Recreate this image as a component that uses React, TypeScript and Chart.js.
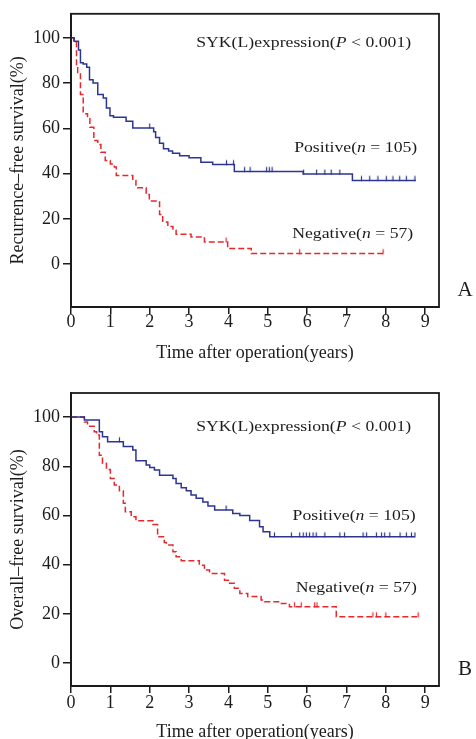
import React, { useEffect, useRef } from "react";
import { Chart, registerables } from "chart.js";

Chart.register(...registerables);

const FONT = '"Liberation Serif", "Times New Roman", Times, serif';
const BLUE = "#2c3590";
const RED = "#e6282c";
const INK = "#1c1c1c";

// ---------- shared ticks ----------
const xTickValues = [0, 1, 2, 3, 4, 5, 6, 7, 8, 9];
const yTickValues = [0, 20, 40, 60, 80, 100];
const xAxisTitle = "Time after operation(years)";

// ---------- Panel A: recurrence-free survival ----------
const rfsPositiveTime = [0, 0.08, 0.19, 0.24, 0.31, 0.4, 0.47, 0.56, 0.68, 0.82, 0.9, 0.99, 1.08, 1.4, 1.57, 2.1, 2.15, 2.25, 2.35, 2.48, 2.58, 2.76, 3.0, 3.3, 3.6, 4.15, 5.9, 7.15, 8.76];
const rfsPositiveSurv = [100, 98.5, 94.6, 89, 88.4, 87, 81.5, 80, 75, 73.4, 69, 65.6, 64.9, 63.1, 60.2, 58.5, 56, 53.4, 51, 50, 49, 47.9, 47, 45, 44, 41, 39.8, 37, 37];
const rfsPositiveCensor = [2.0, 3.95, 4.13, 4.41, 4.55, 4.97, 5.04, 5.11, 5.91, 6.24, 6.45, 6.61, 6.83, 7.38, 7.59, 7.8, 8.01, 8.18, 8.35, 8.52, 8.74];

const rfsNegativeTime = [0, 0.07, 0.14, 0.17, 0.24, 0.31, 0.42, 0.48, 0.58, 0.68, 0.76, 0.87, 1.0, 1.1, 1.15, 1.57, 1.65, 1.91, 1.99, 2.25, 2.33, 2.46, 2.59, 2.67, 3.05, 3.39, 3.98, 4.58, 7.93];
const rfsNegativeSurv = [100, 98, 87.7, 84.7, 75, 66.5, 64.8, 60.5, 54.6, 52.9, 49.5, 45.8, 44.3, 42.9, 39.2, 37, 33.8, 30.8, 27.9, 22, 18.6, 16.7, 15, 13.2, 12, 9.8, 6.9, 4.7, 4.7];
const rfsNegativeCensor = [3.94, 5.81, 7.93];

// ---------- Panel B: overall survival ----------
const osPositiveTime = [0, 0.34, 0.72, 0.8, 0.93, 1.33, 1.57, 1.65, 1.91, 2.0, 2.12, 2.25, 2.59, 2.67, 2.8, 2.93, 3.05, 3.18, 3.35, 3.48, 3.65, 4.11, 4.29, 4.54, 4.79, 4.88, 5.05, 8.74];
const osPositiveSurv = [100, 98.8, 94, 92, 90, 88, 86.6, 82.2, 80.5, 79.5, 78.5, 76.4, 75, 73, 71.3, 70, 68.3, 67, 65.5, 63.8, 62.2, 60.8, 60, 58, 55.4, 53.4, 51.3, 51.3];
const osPositiveCensor = [1.23, 3.94, 5.17, 5.6, 5.81, 5.9, 5.98, 6.06, 6.15, 6.23, 6.45, 6.83, 6.95, 7.42, 7.51, 7.76, 7.89, 7.97, 8.1, 8.36, 8.52, 8.65, 8.74];

const osNegativeTime = [0, 0.34, 0.42, 0.59, 0.65, 0.72, 0.8, 0.9, 1.0, 1.1, 1.23, 1.33, 1.38, 1.53, 1.65, 2.08, 2.2, 2.37, 2.42, 2.59, 2.67, 2.8, 3.26, 3.39, 3.52, 3.9, 4.03, 4.15, 4.29, 4.49, 4.83, 4.92, 5.3, 5.55, 6.74, 8.85];
const osNegativeSurv = [100, 98, 96.3, 94, 92.7, 84.5, 81.2, 78.7, 75, 72.4, 70, 65, 61.5, 59.5, 57.8, 56.3, 51.3, 49, 48, 45.2, 43.2, 41.6, 39.8, 37.8, 36.4, 33.7, 32.4, 30.4, 28.3, 27, 25.6, 24.9, 24.2, 22.9, 18.8, 18.8];
const osNegativeCensor = [5.68, 5.85, 6.19, 6.25, 7.67, 7.76, 8.0, 8.82];

if (typeof document !== "undefined") {
  document.body.style.margin = "0";
}

type Part = { text: string; italic?: boolean };
type Note = { x: number; y: number; parts: Part[] };

function survAt(times: number[], vals: number[], t: number) {
  let v = vals[0];
  for (let i = 0; i < times.length; i++) {
    if (times[i] <= t + 1e-9) v = vals[i];
  }
  return v;
}

function tickMark(color: string) {
  const c = document.createElement("canvas");
  c.width = 3;
  c.height = 12;
  const g = c.getContext("2d")!;
  g.strokeStyle = color;
  g.lineWidth = 1.2;
  g.beginPath();
  g.moveTo(1.5, 1.5);
  g.lineTo(1.5, 6.5);
  g.stroke();
  return c;
}

function drawRich(ctx: CanvasRenderingContext2D, x: number, y: number, parts: Part[]) {
  ctx.save();
  ctx.translate(x, y);
  ctx.scale(1.18, 1);
  ctx.textBaseline = "middle";
  ctx.textAlign = "left";
  ctx.fillStyle = INK;
  let cx = 0;
  for (const p of parts) {
    ctx.font = `${p.italic ? "italic " : ""}15px ${FONT}`;
    ctx.fillText(p.text, cx, 0);
    cx += ctx.measureText(p.text).width;
  }
  ctx.restore();
}

const overlayPlugin = {
  id: "overlay",
  afterDatasetsDraw(chart: any, _args: any, opts: any) {
    const { ctx, chartArea: a, scales } = chart;
    ctx.save();
    ctx.strokeStyle = INK;
    ctx.lineWidth = 1.8;
    ctx.strokeRect(a.left, a.top, a.right - a.left, a.bottom - a.top);
    for (const n of (opts.notes || []) as Note[]) {
      drawRich(ctx, scales.x.getPixelForValue(n.x), scales.y.getPixelForValue(n.y), n.parts);
    }
    ctx.font = `21px ${FONT}`;
    ctx.fillStyle = INK;
    ctx.textAlign = "center";
    ctx.textBaseline = "middle";
    ctx.fillText(opts.letter, a.right + 26, a.bottom - 17);
    ctx.restore();
  },
};

type PanelSpec = {
  posT: number[];
  posS: number[];
  posC: number[];
  negT: number[];
  negS: number[];
  negC: number[];
  yTitle: string;
  yMin: number;
  yMax: number;
  padTop: number;
  xAxisHeight: number;
  xTickPad: number;
  xTitlePad: number;
  letter: string;
  notes: Note[];
};

function makeConfig(p: PanelSpec): any {
  const curve = (t: number[], s: number[]) => t.map((v, i) => ({ x: v, y: s[i] }));
  const cens = (c: number[], t: number[], s: number[]) => c.map((v) => ({ x: v, y: survAt(t, s, v) }));
  return {
    type: "scatter",
    data: {
      datasets: [
        {
          label: "Positive",
          data: curve(p.posT, p.posS),
          showLine: true,
          stepped: "before",
          borderColor: BLUE,
          borderWidth: 1.5,
          pointRadius: 0,
          fill: false,
        },
        {
          label: "Positive censored",
          data: cens(p.posC, p.posT, p.posS),
          showLine: false,
          pointStyle: tickMark(BLUE),
          pointRadius: 3,
        },
        {
          label: "Negative",
          data: curve(p.negT, p.negS),
          showLine: true,
          stepped: "before",
          borderColor: RED,
          borderWidth: 1.5,
          borderDash: [6, 3],
          pointRadius: 0,
          fill: false,
        },
        {
          label: "Negative censored",
          data: cens(p.negC, p.negT, p.negS),
          showLine: false,
          pointStyle: tickMark(RED),
          pointRadius: 3,
        },
      ],
    },
    options: {
      animation: false,
      responsive: false,
      devicePixelRatio: 1,
      events: [],
      layout: { padding: { left: 0, top: p.padTop, right: 37, bottom: 0 } },
      plugins: {
        legend: { display: false },
        tooltip: { enabled: false },
        overlay: { notes: p.notes, letter: p.letter },
      },
      scales: {
        x: {
          type: "linear",
          min: 0,
          max: 9.35,
          afterBuildTicks: (s: any) => {
            s.ticks = xTickValues.map((v) => ({ value: v }));
          },
          afterFit: (s: any) => {
            s.height = p.xAxisHeight;
          },
          ticks: {
            color: INK,
            font: { family: FONT, size: 18, lineHeight: 0.9 },
            padding: p.xTickPad,
            maxRotation: 0,
            autoSkip: false,
          },
          grid: {
            display: true,
            drawOnChartArea: false,
            drawTicks: true,
            tickLength: 7,
            color: INK,
            lineWidth: 1.5,
          },
          border: { display: true, color: INK, width: 2 },
          title: {
            display: true,
            text: xAxisTitle,
            color: INK,
            font: { family: FONT, size: 18, lineHeight: 0.78 },
            padding: { top: 0, bottom: p.xTitlePad },
          },
        },
        y: {
          type: "linear",
          min: p.yMin,
          max: p.yMax,
          afterBuildTicks: (s: any) => {
            s.ticks = yTickValues.map((v) => ({ value: v }));
          },
          afterFit: (s: any) => {
            s.width = 71;
          },
          ticks: {
            color: INK,
            font: { family: FONT, size: 18 },
            padding: 3,
          },
          grid: {
            display: true,
            drawOnChartArea: false,
            drawTicks: true,
            tickLength: 8,
            color: INK,
            lineWidth: 1.5,
          },
          border: { display: true, color: INK, width: 2 },
          title: {
            display: true,
            text: p.yTitle,
            color: INK,
            font: { family: FONT, size: 18 },
            padding: { top: 7, bottom: 0 },
          },
        },
      },
    },
    plugins: [overlayPlugin],
  };
}

const panelA: PanelSpec = {
  posT: rfsPositiveTime,
  posS: rfsPositiveSurv,
  posC: rfsPositiveCensor,
  negT: rfsNegativeTime,
  negS: rfsNegativeSurv,
  negC: rfsNegativeCensor,
  yTitle: "Recurrence–free survival(%)",
  yMin: -18.9,
  yMax: 110.6,
  padTop: 13,
  xAxisHeight: 63,
  xTickPad: 0,
  xTitlePad: 10,
  letter: "A",
  notes: [
    { x: 3.18, y: 97.8, parts: [{ text: "SYK(L)expression(" }, { text: "P", italic: true }, { text: " < 0.001)" }] },
    { x: 5.67, y: 51.1, parts: [{ text: "Positive(" }, { text: "n", italic: true }, { text: " = 105)" }] },
    { x: 5.62, y: 13.2, parts: [{ text: "Negative(" }, { text: "n", italic: true }, { text: " = 57)" }] },
  ],
};

const panelB: PanelSpec = {
  posT: osPositiveTime,
  posS: osPositiveSurv,
  posC: osPositiveCensor,
  negT: osNegativeTime,
  negS: osNegativeSurv,
  negC: osNegativeCensor,
  yTitle: "Overall–free survival(%)",
  yMin: -9.35,
  yMax: 109.8,
  padTop: 23,
  xAxisHeight: 53,
  xTickPad: 2,
  xTitlePad: 0,
  letter: "B",
  notes: [
    { x: 3.18, y: 95.9, parts: [{ text: "SYK(L)expression(" }, { text: "P", italic: true }, { text: " < 0.001)" }] },
    { x: 5.63, y: 59.8, parts: [{ text: "Positive(" }, { text: "n", italic: true }, { text: " = 105)" }] },
    { x: 5.71, y: 30.5, parts: [{ text: "Negative(" }, { text: "n", italic: true }, { text: " = 57)" }] },
  ],
};

export default function App() {
  const refA = useRef<HTMLCanvasElement | null>(null);
  const refB = useRef<HTMLCanvasElement | null>(null);

  useEffect(() => {
    document.body.style.margin = "0";
    Chart.defaults.font.family = FONT;
    Chart.defaults.color = INK;
    const a = new Chart(refA.current!, makeConfig(panelA));
    const b = new Chart(refB.current!, makeConfig(panelB));
    return () => {
      a.destroy();
      b.destroy();
    };
  }, []);

  return (
    <div style={{ width: 476, height: 739, overflow: "hidden", position: "relative", background: "#fff" }}>
      <canvas ref={refA} width={476} height={370} style={{ display: "block" }} />
      <canvas ref={refB} width={476} height={369} style={{ display: "block" }} />
    </div>
  );
}
